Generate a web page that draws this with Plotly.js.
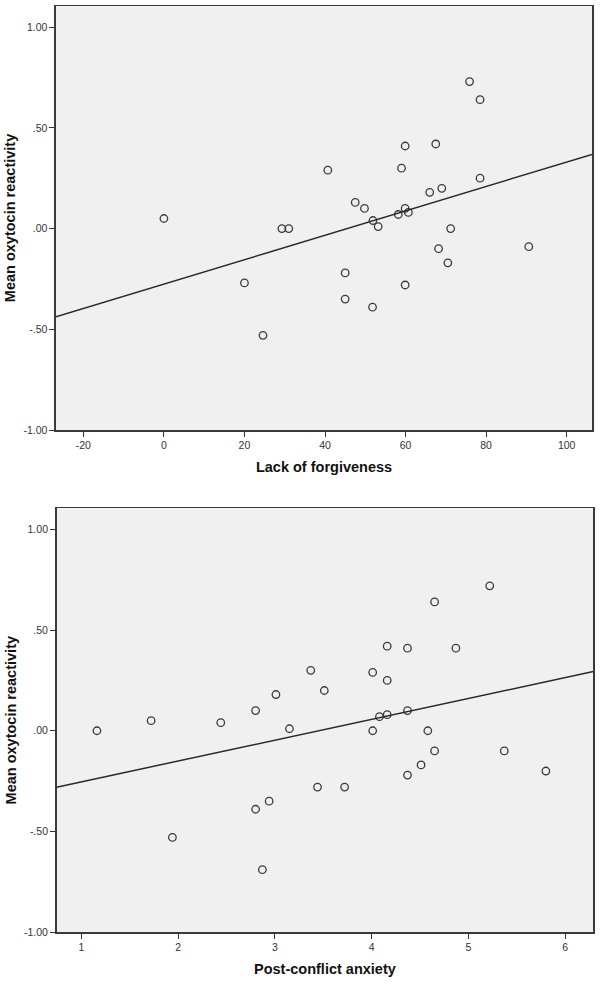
<!DOCTYPE html>
<html>
<head>
<meta charset="utf-8">
<script src="https://cdn.plot.ly/plotly-3.0.1.min.js"></script>
<style>
  html, body { margin: 0; padding: 0; background: #ffffff; }
  #chart { width: 600px; height: 984px; }
</style>
</head>
<body>
<div id="chart"></div>
<script>
// ---- Data ----
// Top panel: Lack of forgiveness vs Mean oxytocin reactivity
const forgiveness = [0, 29.3, 31.0, 20.0, 24.6, 40.7, 75.9, 78.5, 59.9, 67.5, 59.0, 78.5, 66.0, 69.0, 47.5,
  49.8, 51.9, 53.2, 59.9, 58.2, 60.7, 71.2, 68.2, 70.5, 90.6, 45.0, 45.0, 51.8, 59.9];
const oxytocinTop = [0.05, 0.00, 0.00, -0.27, -0.53, 0.29, 0.73, 0.64, 0.41, 0.42, 0.30, 0.25, 0.18, 0.20, 0.13,
  0.10, 0.04, 0.01, 0.10, 0.07, 0.08, 0.00, -0.10, -0.17, -0.09, -0.22, -0.35, -0.39, -0.28];

// Bottom panel: Post-conflict anxiety vs Mean oxytocin reactivity
const anxiety = [1.16, 1.72, 2.44, 2.80, 3.01, 3.37, 3.51, 3.15, 3.44, 2.94, 2.80, 1.94, 2.87,
  5.22, 4.65, 4.16, 4.37, 4.87, 4.01, 4.16, 4.08, 4.16, 4.37, 4.01, 4.58, 4.65, 5.37, 4.51, 4.37, 5.80, 3.72];
const oxytocinBottom = [0.00, 0.05, 0.04, 0.10, 0.18, 0.30, 0.20, 0.01, -0.28, -0.35, -0.39, -0.53, -0.69,
  0.72, 0.64, 0.42, 0.41, 0.41, 0.29, 0.25, 0.07, 0.08, 0.10, 0.00, 0.00, -0.10, -0.10, -0.17, -0.22, -0.20, -0.28];

// Axis ticks
const yTickVals = [-1, -0.5, 0, 0.5, 1];
const yTickText = ['-1.00', '-.50', '.00', '.50', '1.00'];
const xTopTickVals = [-20, 0, 20, 40, 60, 80, 100];
const xBottomTickVals = [1, 2, 3, 4, 5, 6];

// Titles
const yTitle = 'Mean oxytocin reactivity';
const xTopTitle = 'Lack of forgiveness';
const xBottomTitle = 'Post-conflict anxiety';

// ---- Helpers ----
function olsFit(xs, ys) {
  const n = xs.length;
  const mx = xs.reduce((a, b) => a + b, 0) / n;
  const my = ys.reduce((a, b) => a + b, 0) / n;
  let sxy = 0, sxx = 0;
  for (let i = 0; i < n; i++) { sxy += (xs[i] - mx) * (ys[i] - my); sxx += (xs[i] - mx) ** 2; }
  const b = sxy / sxx;
  return { slope: b, intercept: my - b * mx };
}

const xTopRange = [-26.8, 106.3];
const xBottomRange = [0.743, 6.29];
const yRange = [-1, 1.105];

const fitTop = olsFit(forgiveness, oxytocinTop);
const fitBottom = olsFit(anxiety, oxytocinBottom);

const markerStyle = { symbol: 'circle-open', size: 7.5, color: '#3a3a3a', line: { width: 1.3, color: '#3a3a3a' } };
const lineStyle = { color: '#2a2a2a', width: 1.5 };

const data = [
  { type: 'scatter', mode: 'markers', x: forgiveness, y: oxytocinTop, xaxis: 'x', yaxis: 'y', marker: markerStyle, hoverinfo: 'skip' },
  { type: 'scatter', mode: 'lines', x: xTopRange, y: xTopRange.map(v => fitTop.intercept + fitTop.slope * v),
    xaxis: 'x', yaxis: 'y', line: lineStyle, hoverinfo: 'skip' },
  { type: 'scatter', mode: 'markers', x: anxiety, y: oxytocinBottom, xaxis: 'x2', yaxis: 'y2', marker: markerStyle, hoverinfo: 'skip' },
  { type: 'scatter', mode: 'lines', x: xBottomRange, y: xBottomRange.map(v => fitBottom.intercept + fitBottom.slope * v),
    xaxis: 'x2', yaxis: 'y2', line: lineStyle, hoverinfo: 'skip' }
];

const tickFont = { family: 'Liberation Sans, Arial, sans-serif', size: 10.5, color: '#333333' };
const titleFont = { family: 'Liberation Sans, Arial, sans-serif', size: 14.5, color: '#111111', weight: 'bold' };

function xAxis(range, tickvals, title, domain, anchor) {
  return {
    domain: domain, range: range, anchor: anchor,
    tickmode: 'array', tickvals: tickvals, ticktext: tickvals.map(String),
    ticks: 'outside', ticklen: 5, tickwidth: 1, tickcolor: '#333333',
    showline: true, mirror: true, linecolor: '#3a3a3a', linewidth: 1.5,
    showgrid: false, zeroline: false, automargin: false,
    tickfont: tickFont,
    title: { text: '<b>' + title + '</b>', font: titleFont, standoff: 11 }
  };
}
function yAxis(domain, anchor) {
  return {
    domain: domain, range: yRange, anchor: anchor,
    tickmode: 'array', tickvals: yTickVals, ticktext: yTickText,
    ticks: 'outside', ticklen: 5, tickwidth: 1, tickcolor: '#333333',
    showline: true, mirror: true, linecolor: '#3a3a3a', linewidth: 1.5,
    showgrid: false, zeroline: false, automargin: false,
    tickfont: tickFont,
    title: { text: '<b>' + yTitle + '</b>', font: titleFont, standoff: 4 }
  };
}

const layout = {
  width: 600, height: 984,
  margin: { l: 0, r: 0, t: 0, b: 0 },
  paper_bgcolor: '#ffffff',
  plot_bgcolor: '#f0f0f0',
  showlegend: false,
  xaxis: xAxis(xTopRange, xTopTickVals, xTopTitle, [0.0933, 0.9867], 'y'),
  yaxis: yAxis([0.5630, 0.9939], 'x'),
  xaxis2: xAxis(xBottomRange, xBottomTickVals, xBottomTitle, [0.0943, 0.9888], 'y2'),
  yaxis2: yAxis([0.0528, 0.4834], 'x2')
};

Plotly.newPlot('chart', data, layout, { staticPlot: true, displayModeBar: false });
</script>
</body>
</html>
